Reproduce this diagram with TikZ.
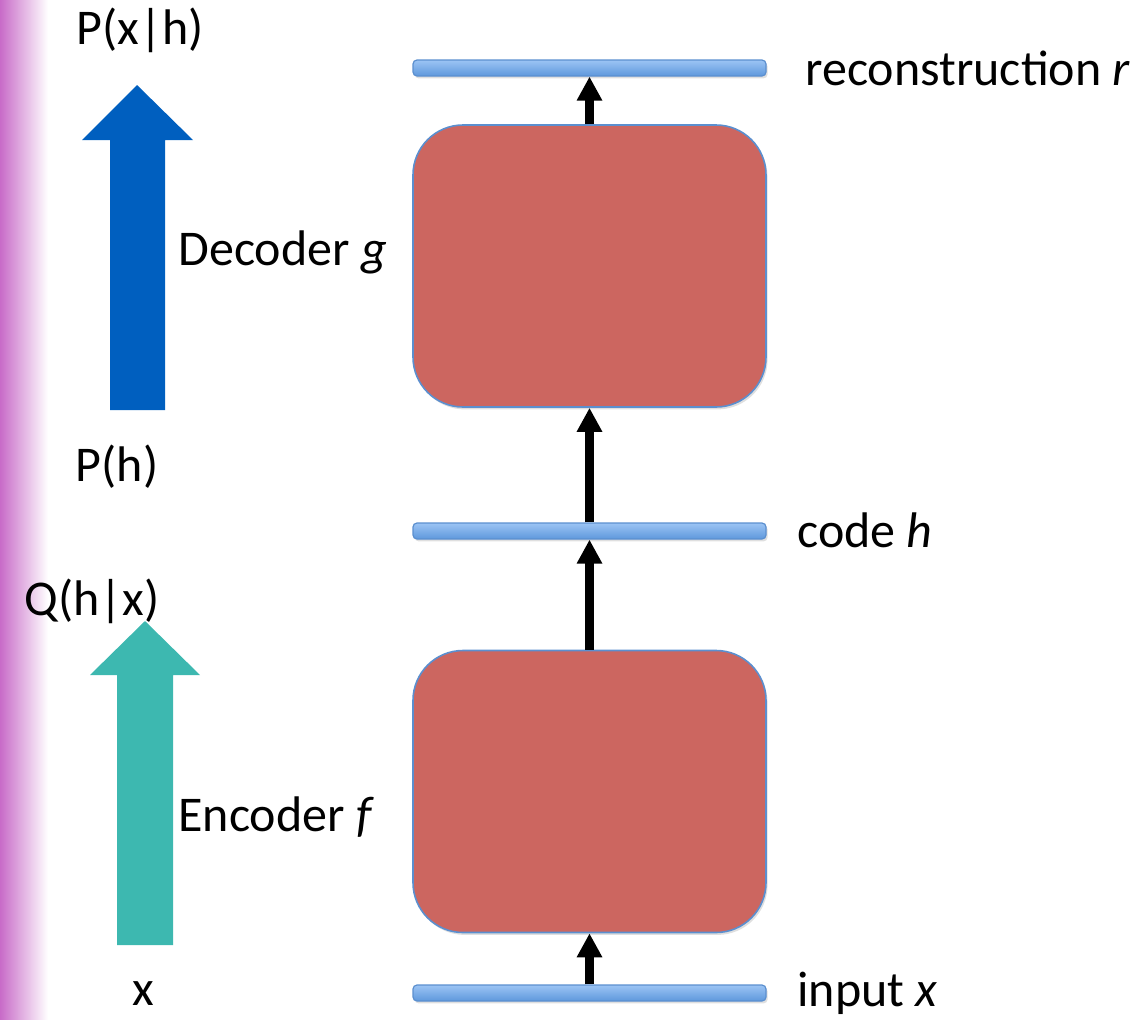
\documentclass[tikz,border=0pt]{standalone}
\usepackage{fontspec}
\setmainfont{Carlito}
\usepackage{tikz}
\usetikzlibrary{arrows.meta,positioning,shadows}
\definecolor{barblue}{HTML}{5E98DC}
\definecolor{bartop}{HTML}{9CC4F4}
\definecolor{barline}{HTML}{5B8FCF}
\definecolor{boxred}{HTML}{CC6660}
\definecolor{decblue}{HTML}{005FBF}
\definecolor{encteal}{HTML}{3DB8B0}
\definecolor{edge}{HTML}{C86BC8}

\begin{document}
\begin{tikzpicture}[
  x=0.5pt, y=-0.5pt,
  font=\fontsize{25}{30}\selectfont,
  layer/.style={draw=barline,line width=0.6pt,top color=bartop,bottom color=barblue,rounded corners=2pt,minimum width=176.5pt,minimum height=8pt,inner sep=0pt,drop shadow={opacity=0.25,shadow xshift=0.8pt,shadow yshift=-1.2pt}},
  net/.style={draw=barline,line width=0.8pt,fill=boxred,rounded corners=25pt,minimum width=176.5pt,minimum height=141pt,inner sep=0pt,drop shadow={opacity=0.25,shadow xshift=0.8pt,shadow yshift=-1.2pt}},
  arr/.style={-{Triangle[width=12pt,length=12pt]},line width=4.5pt},
  lbl/.style={anchor=west,inner sep=0pt}
]
\useasboundingbox (0,0) rectangle (1130,1019);
\shade[left color=edge,right color=white] (0,0) rectangle (48,1019);

% big arrows
\fill[decblue] (110,410) -- (110,140) -- (82,140) -- (137,85) -- (193,140) -- (165,140) -- (165,410) -- cycle;
\fill[encteal] (117,945) -- (117,675) -- (90,675) -- (145,621) -- (200,675) -- (173,675) -- (173,945) -- cycle;
\node (pxh) at (140,30) {P(x|h)};
\node (ph) at (117,467) {P(h)};
\node (qhx) at (92,601) {Q(h|x)};
\node[inner sep=0pt] (xin) at (143,994) {x};
\node[lbl] (dec) at (178,252) {Decoder \textit{g}};
\node[lbl] (enc) at (178,817) {Encoder \textit{f}};

% layers and networks
\node[layer] (recon) at (589.5,68) {};
\node[net] (gnet) at (589.5,266) {};
\node[layer] (code) at (589.5,531) {};
\node[net] (fnet) at (589.5,791.5) {};
\node[layer] (input) at (589.5,993) {};

\node[lbl] at (805,68) {reconstruction \textit{r}};
\node[lbl] at (797,530) {code \textit{h}};
\node[lbl] at (797,993) {input \textit{x}};

\draw[arr] (input) -- (fnet);
\draw[arr] (fnet) -- (code);
\draw[arr] (code) -- (gnet);
\draw[arr] (gnet) -- (recon);
\end{tikzpicture}
\end{document}
